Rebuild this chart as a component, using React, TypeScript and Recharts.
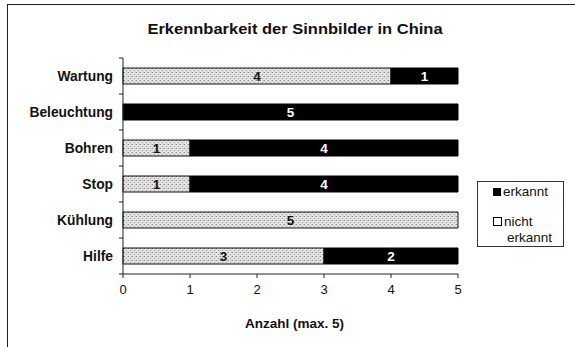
import React from 'react';
import { BarChart, Bar, XAxis, YAxis, LabelList } from 'recharts';

const categories = ['Wartung', 'Beleuchtung', 'Bohren', 'Stop', 'Kühlung', 'Hilfe'];
const nichtErkannt = [4, 0, 1, 1, 5, 3];
const erkannt = [1, 5, 4, 4, 0, 2];
const xTicks = [0, 1, 2, 3, 4, 5];

const data = categories.map((name, i) => ({
  name,
  nicht: nichtErkannt[i],
  erkannt: erkannt[i],
}));

const FONT = '"Liberation Sans", Arial, Helvetica, sans-serif';

const fmt = (v: any) => (v ? String(v) : '');

const CatTick = (props: any) => {
  const { x, y, payload, index } = props;
  const half = payload && payload.offset ? payload.offset : 18;
  const isLast = index === categories.length - 1;
  return (
    <g>
      <line x1={x - 4} x2={x} y1={y - half} y2={y - half} stroke="#222" />
      {isLast ? <line x1={x - 4} x2={x} y1={y + half} y2={y + half} stroke="#222" /> : null}
      <text x={x - 10} y={y} dy="0.35em" textAnchor="end" fill="#111" fontSize={13.8} fontWeight="bold" fontFamily={FONT}>
        {payload.value}
      </text>
    </g>
  );
};

export default function App() {
  return (
    <div style={{ position: 'absolute', left: 0, top: 0, width: 575, height: 347, background: '#fff', fontFamily: FONT }}>
      <div style={{ position: 'absolute', left: 7, top: 4, width: 568, height: 343, borderLeft: '1.5px solid #222', borderTop: '1.5px solid #222' }} />
      <div style={{ position: 'absolute', left: 0, top: 20, width: 590, textAlign: 'center', fontWeight: 'bold', fontSize: 15, color: '#111', transform: 'scaleX(1.1)', transformOrigin: '295px 0' }}>
        Erkennbarkeit der Sinnbilder in China
      </div>
      <BarChart
        width={575}
        height={347}
        data={data}
        layout="vertical"
        barSize={16}
        margin={{ top: 58, right: 117, bottom: 0, left: 0 }}
        style={{ position: 'absolute', left: 0, top: 0, fontFamily: FONT }}
      >
        <defs>
          <pattern id="dots" width="4" height="4" patternUnits="userSpaceOnUse">
            <rect width="4" height="4" fill="#e2e2e2" />
            <rect x="0" y="0" width="1" height="1" fill="#888" />
            <rect x="2" y="2" width="1" height="1" fill="#a0a0a0" />
            <rect x="3" y="0" width="1" height="1" fill="#bbb" />
          </pattern>
        </defs>
        <YAxis
          type="category"
          dataKey="name"
          width={123}
          axisLine={{ stroke: '#222' }}
          tickLine={false}
          tickSize={0}
          tickMargin={0}
          tick={<CatTick />}
        />
        <XAxis
          type="number"
          domain={[0, 5]}
          ticks={xTicks}
          height={73}
          tickSize={4}
          tickMargin={7}
          axisLine={{ stroke: '#222' }}
          tickLine={{ stroke: '#222' }}
          tick={{ fill: '#111', fontSize: 13 }}
          label={{ value: 'Anzahl (max. 5)', position: 'insideBottom', offset: 19, dx: 4, fill: '#111', fontSize: 13.5, fontWeight: 'bold' }}
        />
        <Bar dataKey="nicht" stackId="a" fill="url(#dots)" stroke="#111" strokeWidth={1} isAnimationActive={false}>
          <LabelList dataKey="nicht" position="center" formatter={fmt} fill="#111" fontSize={13.5} fontWeight="bold" />
        </Bar>
        <Bar dataKey="erkannt" stackId="a" fill="#000" stroke="#000" isAnimationActive={false}>
          <LabelList dataKey="erkannt" position="center" formatter={fmt} fill="#fff" fontSize={13.5} fontWeight="bold" />
        </Bar>
      </BarChart>
      <div style={{ position: 'absolute', left: 477, top: 181, width: 85, height: 64, border: '1px solid #333', background: '#fff', fontSize: 13.5, color: '#111', lineHeight: '16px' }}>
        <div style={{ position: 'absolute', left: 15, top: 2, display: 'flex', alignItems: 'center' }}>
          <span style={{ display: 'inline-block', width: 8, height: 8, background: '#000', marginRight: 2 }} />
          erkannt
        </div>
        <div style={{ position: 'absolute', left: 15, top: 32 }}>
          <span style={{ display: 'inline-block', width: 7, height: 7, border: '1px solid #000', background: '#fff', marginRight: 2 }} />
          nicht
          <div style={{ paddingLeft: 14 }}>erkannt</div>
        </div>
      </div>
    </div>
  );
}
